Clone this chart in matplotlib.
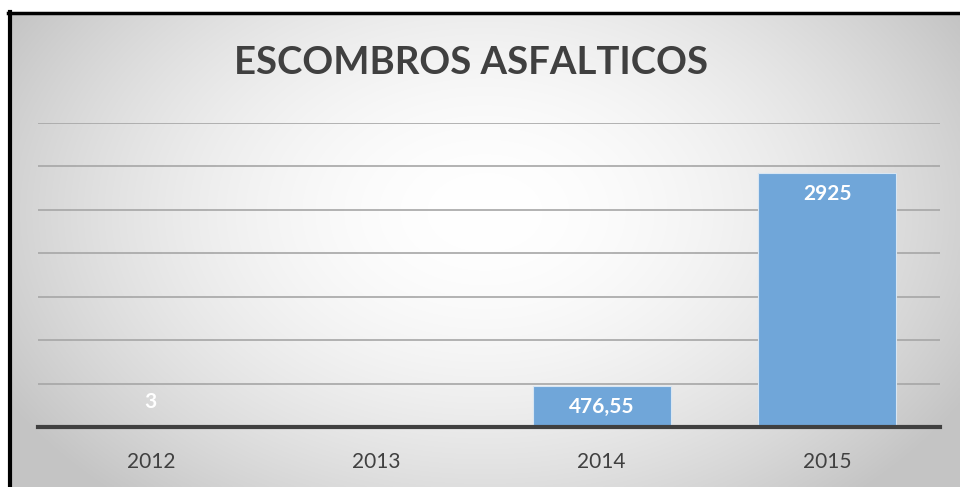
import numpy as np
import matplotlib
matplotlib.use("Agg")
import matplotlib.pyplot as plt

# datos
anios = ["2012", "2013", "2014", "2015"]
valores = [3, 8, 476.55, 2925]
etiquetas = ["3", "", "476,55", "2925"]

plt.rcParams['font.family'] = ['Lato', 'DejaVu Sans']

W, H = 960, 487
fig = plt.figure(figsize=(W / 100, H / 100), dpi=100)

# fondo con degradado radial
bg = fig.add_axes([8 / W, 0, (W - 8) / W, (H - 12) / H])
ny, nx = 240, 480
yy, xx = np.mgrid[0:ny, 0:nx]
cx, cy = nx * 0.5, ny * 0.42
r = np.sqrt(((xx - cx) / (nx * 0.58)) ** 2 + ((yy - cy) / (ny * 0.8)) ** 2)
r = np.clip(r, 0, 1)
g = 1.0 - 0.23 * r ** 1.8
img = np.dstack([g, g, g])
bg.imshow(img, aspect='auto', extent=[0, 1, 0, 1], interpolation='bilinear')
bg.set_xlim(0, 1)
bg.set_ylim(0, 1)
bg.axis('off')

# borde negro izquierda y arriba
fig.add_artist(plt.Line2D([10 / W, 10 / W], [0, (H - 12) / H], color='black', lw=3))
fig.add_artist(plt.Line2D([8 / W, 1], [(H - 13) / H, (H - 13) / H], color='black', lw=2.5))

ax = fig.add_axes([38 / W, 1 - 427 / H, (940 - 38) / W, (427 - 123) / H])
ax.patch.set_alpha(0)
x = np.arange(len(anios))
barras = ax.bar(x, valores, width=0.61, color='#70a6d9', edgecolor='#d8e6f3', lw=0.8, zorder=3)
ax.set_xlim(-0.5, 3.5)
ax.set_ylim(0, 3500)
ax.set_yticks(np.arange(500, 3501, 500))
ax.yaxis.grid(True, color='#a6a6a6', lw=1.2, zorder=0)
ax.tick_params(axis='y', left=False, labelleft=False)
ax.set_xticks(x)
ax.set_xticklabels(anios, fontsize=15, color='#404040')
ax.tick_params(axis='x', length=0, pad=18)
for s in ['top', 'right', 'left']:
    ax.spines[s].set_visible(False)
ax.spines['bottom'].set_color('#404040')
ax.spines['bottom'].set_linewidth(3)
ax.spines['bottom'].set_zorder(4)

for b, v, t in zip(barras, valores, etiquetas):
    if not t:
        continue
    xc = b.get_x() + b.get_width() / 2
    if v < 200:
        # barra demasiado baja: la etiqueta queda encima de la base
        ax.annotate(t, (xc, 0), xytext=(0, 11), textcoords='offset points',
                    ha='center', va='bottom', fontsize=15, fontweight='bold', color='white', zorder=5)
    else:
        ax.annotate(t, (xc, v), xytext=(0, -8), textcoords='offset points',
                    ha='center', va='top', fontsize=15, fontweight='bold', color='white', zorder=5)

fig.text(471 / W, 1 - 63 / H, "ESCOMBROS ASFALTICOS", ha='center', va='center',
         fontsize=27.5, fontweight='bold', color='#404040')

fig.savefig("out.png", dpi=100)
